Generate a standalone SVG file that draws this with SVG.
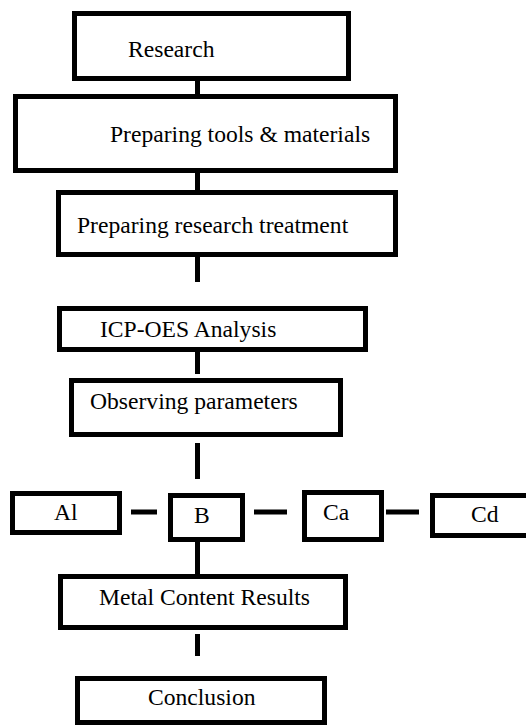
<svg xmlns="http://www.w3.org/2000/svg" width="526" height="726" viewBox="0 0 526 726">
<defs>
<style>
.box{fill:#fff;stroke:#000;stroke-width:5;stroke-linejoin:miter}
.lbl{font-family:'Liberation Serif','Times New Roman',Times,serif;font-size:23.6px;fill:#000}
.con{stroke:#000;stroke-width:5;fill:none}
.shadow{stroke:#9a9a9a;stroke-width:4;fill:none;opacity:0.6;filter:url(#blur)}
</style>
<filter id="blur" x="-20%" y="-100%" width="140%" height="300%"><feGaussianBlur stdDeviation="1.2"/></filter>
</defs>
<rect width="526" height="726" fill="#fff"/>
<g id="connectors">
<line class="shadow" x1="123" y1="515" x2="131" y2="515"/>
<line class="shadow" x1="262" y1="519" x2="296" y2="519"/>
<line class="con" x1="197.5" y1="79" x2="197.5" y2="96"/>
<line class="con" x1="197.5" y1="171" x2="197.5" y2="192"/>
<line class="con" x1="197.5" y1="257" x2="197.5" y2="282"/>
<line class="con" x1="197.5" y1="352" x2="197.5" y2="374"/>
<line class="con" x1="197.5" y1="443" x2="197.5" y2="479"/>
<line class="con" x1="197.5" y1="542" x2="197.5" y2="576"/>
<line class="con" x1="197.5" y1="634" x2="197.5" y2="656"/>
<line class="con" x1="131" y1="512" x2="157" y2="512"/>
<line class="con" x1="254" y1="512" x2="287" y2="512"/>
<line class="con" x1="386" y1="512" x2="419" y2="512"/>
</g>
<g id="research"><rect class="box" x="74.5" y="13.5" width="274" height="65"/><text class="lbl" x="128" y="57">Research</text></g>
<g id="tools"><rect class="box" x="15.5" y="96.5" width="380" height="74"/><text class="lbl" x="110" y="142">Preparing tools &amp; materials</text></g>
<g id="treatment"><rect class="box" x="58.5" y="192.5" width="337" height="62"/><text class="lbl" x="77" y="233">Preparing research treatment</text></g>
<g id="icp"><rect class="box" x="59.5" y="308.5" width="306" height="41"/><text class="lbl" x="100" y="337">ICP-OES Analysis</text></g>
<g id="observing"><rect class="box" x="71.5" y="380.5" width="269" height="54"/><text class="lbl" x="90" y="409">Observing parameters</text></g>
<g id="al"><rect class="box" x="12.5" y="493.5" width="107" height="39"/><text class="lbl" x="54" y="520">Al</text></g>
<g id="b"><rect class="box" x="170.5" y="495.5" width="72" height="44"/><text class="lbl" x="194" y="523">B</text></g>
<g id="ca"><rect class="box" x="304.5" y="492.5" width="77" height="47"/><text class="lbl" x="323" y="520">Ca</text></g>
<g id="cd"><rect class="box" x="432.5" y="495.5" width="100" height="40"/><text class="lbl" x="471" y="522">Cd</text></g>
<g id="metal"><rect class="box" x="60.5" y="576.5" width="285" height="51"/><text class="lbl" x="99" y="605">Metal Content Results</text></g>
<g id="conclusion"><rect class="box" x="77.5" y="678.5" width="247" height="44"/><text class="lbl" x="148" y="705">Conclusion</text></g>
</svg>
